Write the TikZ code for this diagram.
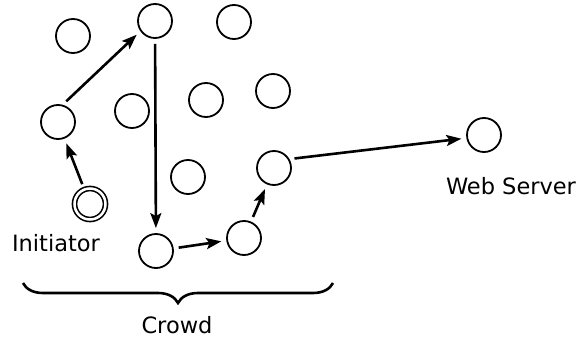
\documentclass[tikz,border=0pt]{standalone}
\usepackage{fontspec}
\setmainfont{DejaVu Sans}
\usetikzlibrary{arrows.meta}
\usetikzlibrary{decorations.pathreplacing}

\tikzset{
	peer/.style={draw, circle, minimum size=34pt, inner sep=0pt, line width=1.8pt},
	origin/.style={draw, circle, double, double distance=2.5pt, minimum size=31pt, inner sep=0pt, line width=1.6pt},
	hop/.style={line width=2.6pt, -{Stealth[length=15pt,width=11pt,inset=3pt]}, shorten <=5pt, shorten >=5pt},
	caption/.style={font=\fontsize{22.5}{27}\selectfont, inner sep=0pt}
}

\begin{document}
\begin{tikzpicture}[x=1pt, y=1pt]
	\useasboundingbox (0,0) rectangle (578,-340);
	% the crowd
	\node[peer] (p1) at (73, -36) {};
	\node[peer] (p2) at (155, -21) {};
	\node[peer] (p3) at (234, -22) {};
	\node[peer] (p4) at (58, -122) {};
	\node[peer] (p5) at (132, -111) {};
	\node[peer] (p6) at (206, -100) {};
	\node[peer] (p7) at (273, -91) {};
	\node[peer] (p8) at (188, -177) {};
	\node[peer] (p9) at (274, -168) {};
	\node[peer] (p10) at (156, -251) {};
	\node[peer] (p11) at (244, -238) {};
	\node[origin] (init) at (90, -204) {};
	\node[peer] (web) at (484, -135) {};
	
	% labels
	\node[caption] (initlabel) at (56, -243) {Initiator};
	\node[caption] (weblabel) at (511, -186) {Web Server};
	\node[caption] (crowdlabel) at (177, -325) {Crowd};
	
	% path of the request
	\draw[hop] (init) -- (p4);
	\draw[hop] (p4.75) -- (p2.215);
	\draw[hop] (p2) -- (p10);
	\draw[hop] (p10) -- (p11);
	\draw[hop] (p11) -- (p9);
	\draw[hop] (p9.30) -- (web.190);
	
	\coordinate (bracer) at (333, -283);
	\coordinate (bracel) at (23, -283);
	\draw[line width=2.6pt, decorate, decoration={brace, amplitude=20pt}] (bracer) -- (bracel);
\end{tikzpicture}
\end{document}
